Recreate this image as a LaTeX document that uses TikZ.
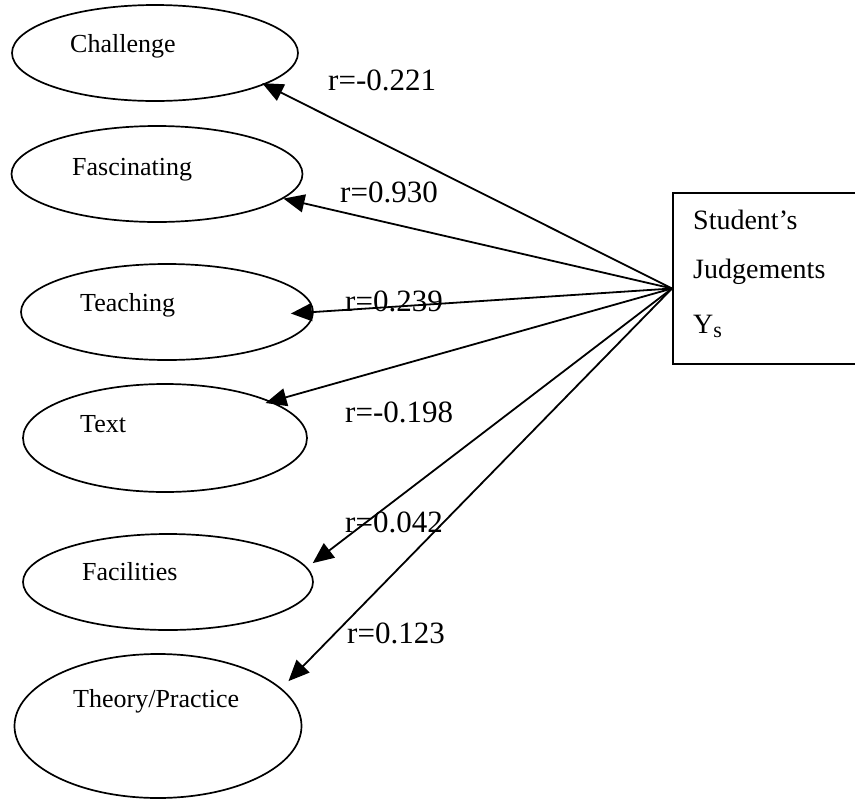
\documentclass[tikz,border=0pt]{standalone}
\usepackage{fontspec}
\setmainfont{Liberation Serif}
\usetikzlibrary{arrows.meta,shapes.geometric}
\begin{document}
\begin{tikzpicture}[x=1pt,y=-1pt,
  factor/.style={draw, ellipse, line width=1.7pt, inner sep=0pt},
  ftext/.style={anchor=base west, inner sep=0pt, font=\fontsize{26}{30}\selectfont},
  rlabel/.style={anchor=base west, inner sep=0pt, font=\fontsize{31}{36}\selectfont},
  jtext/.style={anchor=base west, inner sep=0pt, font=\fontsize{28}{32}\selectfont},
  outcome/.style={draw, line width=2pt, rectangle, inner sep=0pt, anchor=north west},
  link/.style={line width=1.8pt, -{Triangle[length=21pt,width=18pt]}},
]
\useasboundingbox (0,0) rectangle (855,801);
\clip (0,0) rectangle (855,801);

% predictor factors
\node[factor, minimum width=286pt, minimum height=96pt]  (chal)  at (155,53)  {};
\node[factor, minimum width=291pt, minimum height=96pt]  (fasc)  at (157,174) {};
\node[factor, minimum width=292pt, minimum height=96pt]  (teach) at (167,312) {};
\node[factor, minimum width=284pt, minimum height=108pt] (text)  at (165,438) {};
\node[factor, minimum width=290pt, minimum height=96pt]  (fac)   at (168,582) {};
\node[factor, minimum width=287pt, minimum height=144pt] (theo)  at (158,726) {};

\node[ftext] (tchal)  at (70,52)  {Challenge};
\node[ftext] (tfasc)  at (72,175) {Fascinating};
\node[ftext] (tteach) at (80,311) {Teaching};
\node[ftext] (ttext)  at (80,432) {Text};
\node[ftext] (tfac)   at (82,580) {Facilities};
\node[ftext] (ttheo)  at (73,707) {Theory/Practice};

% outcome box, running off the right edge
\node[outcome, minimum width=240pt, minimum height=171pt] (judge) at (672,192) {};
\node[jtext] (j1) at (693,229) {Student’s};
\node[jtext] (j2) at (693,278) {Judgements};
\node[jtext] (j3) at (693,333) {Y\raisebox{-4pt}{\fontsize{22}{22}\selectfont s}};

\coordinate (hub) at ([yshift=-10pt]judge.west);

% correlations
\draw[link, shorten >=-3pt] (hub) -- (chal.-16);
\draw[link] (hub) -- (fasc.-11.4);
\draw[link, shorten >=-23pt] (hub) -- (teach.east);
\draw[link, shorten >=-6pt] (hub) -- (text.19);
\draw[link, shorten >=7pt] (hub) -- (fac.6);
\draw[link, shorten >=10pt] (hub) -- (theo.17);

\node[rlabel] (r1) at (328,90)  {r=-0.221};
\node[rlabel] (r2) at (340,202) {r=0.930};
\node[rlabel] (r3) at (345,311) {r=0.239};
\node[rlabel] (r4) at (345,422) {r=-0.198};
\node[rlabel] (r5) at (345,532) {r=0.042};
\node[rlabel] (r6) at (347,643) {r=0.123};
\end{tikzpicture}
\end{document}
